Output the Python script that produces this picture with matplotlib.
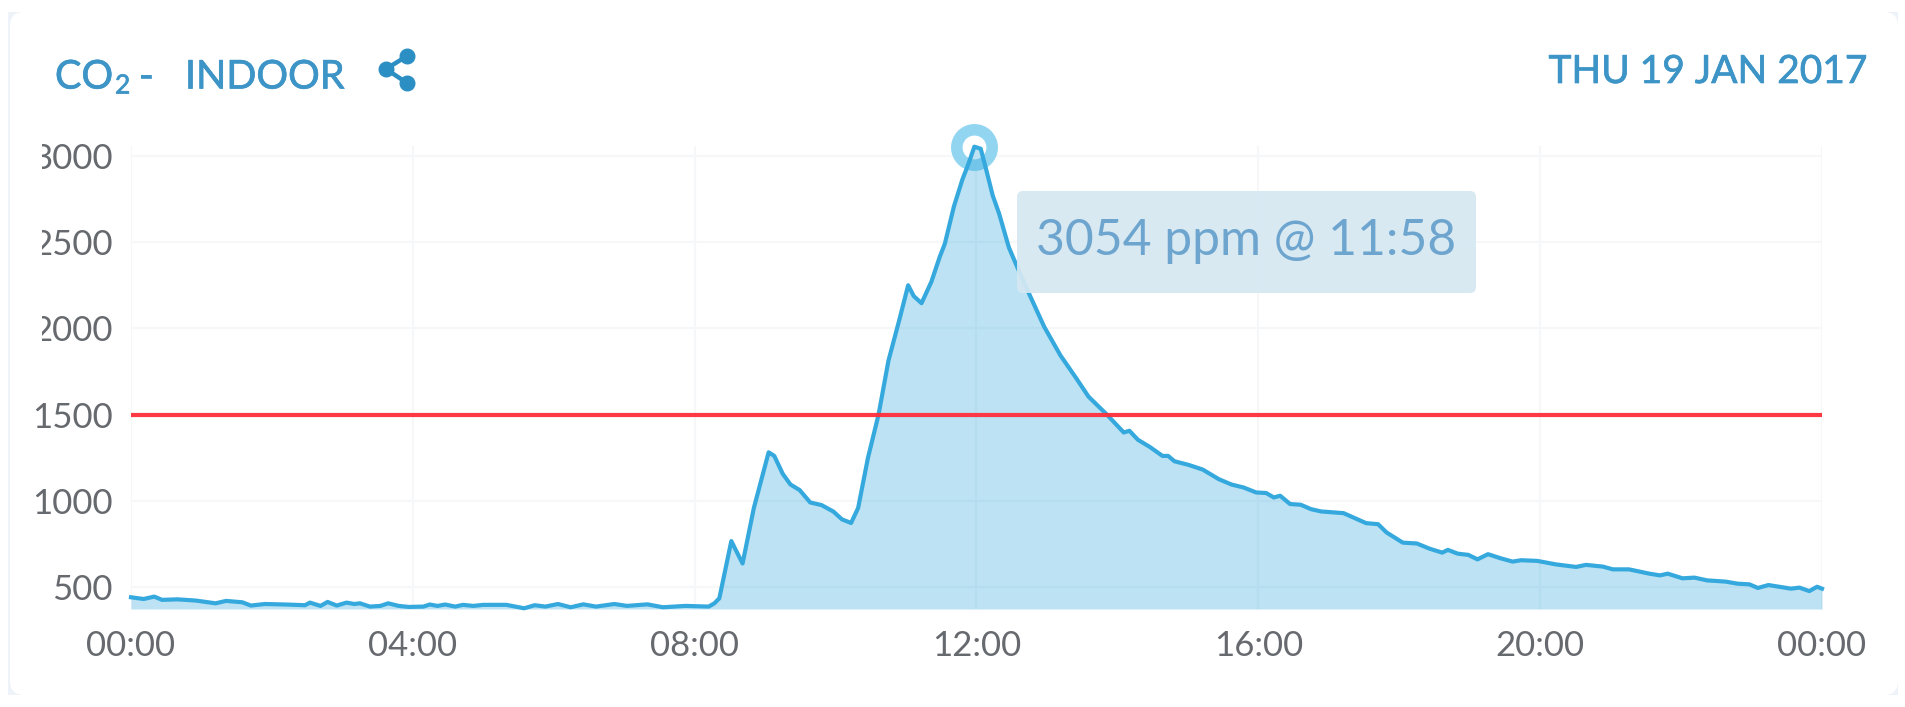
import matplotlib
matplotlib.use('Agg')
import matplotlib.pyplot as plt
import matplotlib.patheffects as pe
from matplotlib.patches import FancyBboxPatch, Rectangle

W, H = 1906, 707

hours = [0, .18, .33, .44, .66, .92, 1.2, 1.35, 1.58, 1.7, 1.9, 2.2, 2.47, 2.54, 2.69, 2.79, 2.92, 3.06,
         3.17, 3.25, 3.39, 3.54, 3.65, 3.8, 3.94, 4.15, 4.24, 4.35, 4.46, 4.6, 4.71, 4.86, 5.0, 5.33,
         5.58, 5.73, 5.88, 6.06, 6.24, 6.42, 6.6, 6.86, 7.04, 7.33, 7.55, 7.87, 8.2, 8.28, 8.35, 8.52,
         8.68, 8.84, 9.05, 9.13, 9.25, 9.36, 9.49, 9.64, 9.8, 9.97, 10.09, 10.22, 10.32, 10.46, 10.61,
         10.75, 10.9, 11.03, 11.11, 11.22, 11.36, 11.48, 11.55, 11.68, 11.8, 11.88, 11.97, 12.06, 12.14,
         12.23, 12.32, 12.46, 12.58, 12.75, 12.96, 13.19, 13.42, 13.59, 13.85, 14.09, 14.17, 14.29,
         14.46, 14.64, 14.72, 14.81, 15.01, 15.21, 15.44, 15.62, 15.79, 15.97, 16.11, 16.22, 16.31,
         16.45, 16.6, 16.75, 16.89, 17.21, 17.53, 17.7, 17.82, 18.05, 18.25, 18.43, 18.61, 18.69, 18.83,
         18.98, 19.11, 19.26, 19.44, 19.61, 19.73, 19.96, 20.22, 20.51, 20.65, 20.89, 21.03, 21.26,
         21.55, 21.7, 21.81, 22.02, 22.19, 22.37, 22.63, 22.8, 22.97, 23.09, 23.24, 23.56, 23.68, 23.82,
         23.93, 24]
co2 = [440, 430, 444, 425, 428, 421, 405, 419, 411, 392, 401, 398, 394, 409, 390, 413, 392, 409,
       401, 405, 386, 390, 405, 390, 384, 386, 398, 390, 398, 386, 396, 390, 396, 396,
       376, 394, 386, 401, 382, 399, 386, 401, 390, 399, 382, 390, 386, 405, 434, 766,
       636, 958, 1281, 1260, 1156, 1094, 1062, 990, 975, 937, 892, 871, 958, 1250, 1500,
       1812, 2042, 2250, 2187, 2146, 2271, 2417, 2490, 2708, 2864, 2948, 3054, 3042, 2917,
       2771, 2667, 2469, 2354, 2198, 2010, 1844, 1708, 1604, 1500, 1396, 1406, 1354,
       1312, 1260, 1260, 1229, 1208, 1181, 1125, 1094, 1077, 1048, 1045, 1019, 1029,
       981, 977, 951, 938, 928, 870, 864, 816, 757, 752, 722, 699, 715, 693,
       686, 660, 690, 666, 647, 655, 651, 631, 616, 628, 618, 602, 602,
       577, 567, 577, 550, 554, 538, 531, 519, 515, 494, 511, 490, 496, 476,
       501, 490]

threshold = 1500
x_ticks = [0, 4, 8, 12, 16, 20, 24]
x_labels = ['00:00', '04:00', '08:00', '12:00', '16:00', '20:00', '00:00']
y_ticks = [500, 1000, 1500, 2000, 2500, 3000]
date_label = 'THU 19 JAN 2017'
tooltip_label = '3054 ppm @ 11:58'

plt.rcParams['font.family'] = ['Lato', 'DejaVu Sans']
BLUE = '#3d94c6'
GREY = '#666a6e'

fig = plt.figure(figsize=(W / 100, H / 100), dpi=100, facecolor='white')


def overlay(z):
    a = fig.add_axes([0, 0, 1, 1], zorder=z)
    a.set_xlim(0, W)
    a.set_ylim(H, 0)
    a.axis('off')
    a.patch.set_alpha(0)
    return a


bg = overlay(0)
fg = overlay(2)

# card, only its corners and left edge show
bg.add_patch(Rectangle((8, 12), W - 16, H - 24, fc='#eef2f9', ec='none'))
bg.add_patch(FancyBboxPatch((10 + 14, 12 + 14), W - 18 - 28, H - 24 - 28,
                            boxstyle='round,pad=14,rounding_size=14', fc='white', ec='none'))

ax = fig.add_axes([131 / W, 1 - 609 / H, (1822 - 131) / W, (609 - 146) / H], zorder=1)
ax.patch.set_alpha(0)
ax.set_xlim(0, 24)
ax.set_ylim(372, 3058)
for s in ax.spines.values():
    s.set_visible(False)
ax.set_axisbelow(True)
ax.grid(True, color='#f6f7f9', lw=1.6)
ax.set_xticks(x_ticks)
ax.set_xticklabels(x_labels)
ax.set_yticks(y_ticks)
ax.tick_params(length=0, labelsize=25, labelcolor=GREY)
ax.tick_params(axis='x', pad=15)
ax.tick_params(axis='y', pad=13)

# first digit of 3000, 2500, 2000 is cut off in the original
fg.add_patch(Rectangle((11, 135), 31, 215, fc='white', ec='none'))

peak = co2.index(max(co2))
ax.plot(hours[peak], co2[peak], 'o', ms=25.5, mfc='white', mec='#92d5f0', mew=8.3,
        clip_on=False, zorder=2)
ax.fill_between(hours, co2, 372, color='#35a9dd', alpha=0.33, lw=0, zorder=3)
ax.plot(hours, co2, color='#35a9dd', lw=3, zorder=4, clip_on=False)
ax.plot([0, 24], [threshold, threshold], color='#ff2f3a', lw=3, alpha=0.95, zorder=5,
        solid_capstyle='butt')

# heading
heavy = [pe.withStroke(linewidth=0.5, foreground=BLUE)]
fg.text(55, 77, 'CO', color=BLUE, fontsize=28.5, va='center', ha='left', path_effects=heavy)
fg.text(115, 86, '2', color=BLUE, fontsize=19, va='center', ha='left', path_effects=heavy)
fg.text(139, 77, '-', color=BLUE, fontsize=28.5, va='center', ha='left', path_effects=heavy)
fg.text(185, 77, 'INDOOR', color=BLUE, fontsize=28.5, va='center', ha='left', path_effects=heavy)
fg.text(1867, 72, date_label, color=BLUE, fontsize=28, va='center', ha='right', path_effects=heavy)

# share icon
icon = '#2c8fc4'
fg.plot([407, 386, 407], [56, 69, 83], color=icon, lw=3.2)
fg.plot([407, 386, 407], [56, 69, 83], 'o', color=icon, ms=10.5)

# tooltip
fg.add_patch(FancyBboxPatch((1023, 197), 447, 90, boxstyle='round,pad=6,rounding_size=6',
                            fc='#d5e8f2', ec='none', alpha=0.93))
fg.text(1246, 241, tooltip_label, color='#6da5cf', fontsize=35.8, va='center', ha='center')

fig.savefig('out.png', dpi=100, facecolor='white')
